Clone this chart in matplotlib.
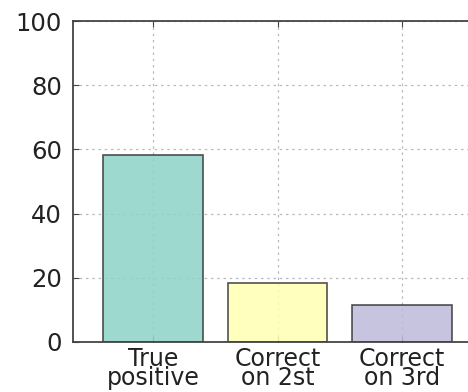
import numpy as np
import matplotlib.pyplot as plt

categories = ['True\npositive', 'Correct\non 2st', 'Correct\non 3rd']
values = [58.3, 18.3, 11.4]
colors = ['#8dd3c7', '#ffffb3', '#bebada']

fig = plt.figure(figsize=(4.68, 3.92), dpi=100)
ax = fig.add_axes([0.156, 0.128, 0.862, 0.818])

x = np.arange(len(categories))
ax.bar(x, values, width=0.8, color=colors, alpha=0.85,
       edgecolor='#333333', linewidth=1.2, zorder=2)

ax.set_xlim(-0.645, 2.6)
ax.set_ylim(0, 100)
ax.set_yticks([0, 20, 40, 60, 80, 100])
ax.set_xticks(x)
ax.set_xticklabels(categories, fontsize=17, color='#222222', linespacing=0.72)
ax.tick_params(axis='y', labelsize=17.5, labelcolor='#222222', pad=8)
ax.tick_params(axis='x', pad=4)
ax.tick_params(direction='in', top=True, right=True, length=4, color='#444444')

ax.grid(True, linestyle=(0, (2, 3)), color='#bbbbbb', linewidth=0.9, zorder=3)
for s in ax.spines.values():
    s.set_color('#444444')
    s.set_linewidth(1.3)

fig.savefig('out.png', dpi=100)
